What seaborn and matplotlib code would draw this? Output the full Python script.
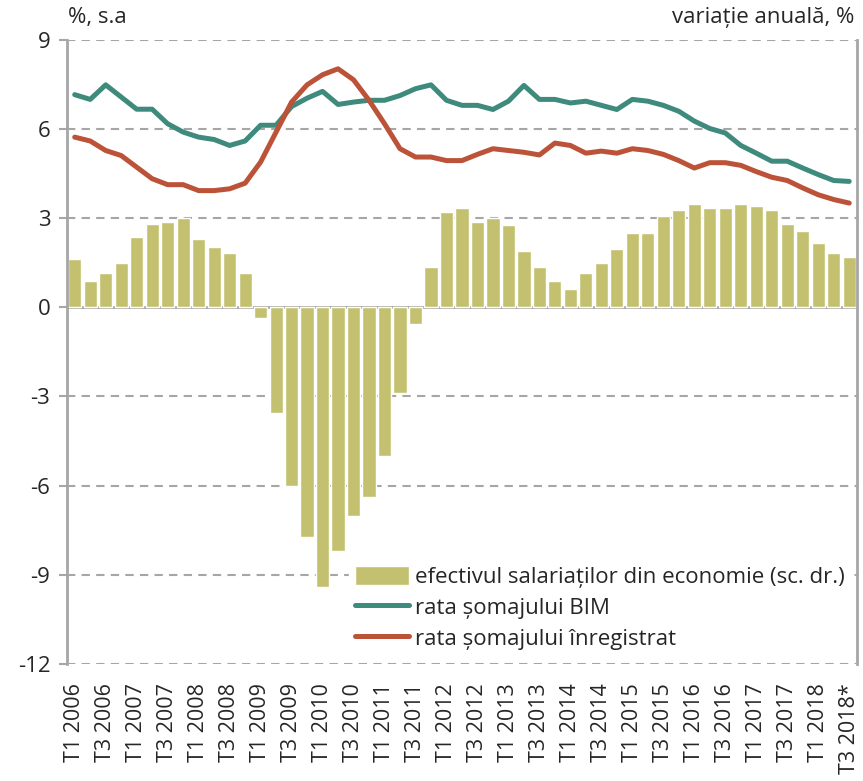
import pandas as pd
import matplotlib
matplotlib.use('Agg')
import matplotlib.pyplot as plt
import seaborn as sns

# quarters T1 2006 .. T3 2018
years = list(range(2006, 2019))
quarters = [f'T{q} {y}' for y in years for q in range(1, 5)][:51]
tick_labels = [q for i, q in enumerate(quarters) if i % 2 == 0]
tick_labels[-1] = 'T3 2018*'

# employees in the economy, annual change (%)
employees = [1.62, 0.89, 1.16, 1.49, 2.36, 2.82, 2.89, 3.02, 2.29, 2.02, 1.82, 1.16,
             -0.37, -3.54, -6.03, -7.72, -9.40, -8.19, -7.04, -6.37, -5.02, -2.87, -0.57,
             1.36, 3.22, 3.36, 2.89, 3.02, 2.76, 1.89, 1.36, 0.89, 0.62, 1.16, 1.49,
             1.96, 2.49, 2.49, 3.09, 3.29, 3.49, 3.36, 3.36, 3.49, 3.42, 3.29, 2.82,
             2.56, 2.16, 1.82, 1.69]

# ILO unemployment rate (%, s.a.)
ilo_rate = [7.16, 7.00, 7.49, 7.08, 6.67, 6.67, 6.18, 5.90, 5.73, 5.65, 5.45, 5.60,
            6.13, 6.13, 6.76, 7.04, 7.27, 6.83, 6.91, 6.97, 6.97, 7.13, 7.36, 7.49,
            6.97, 6.80, 6.80, 6.66, 6.94, 7.47, 7.00, 7.00, 6.88, 6.94, 6.80, 6.66,
            7.00, 6.94, 6.80, 6.60, 6.27, 6.02, 5.87, 5.45, 5.19, 4.92, 4.92, 4.69,
            4.47, 4.27, 4.24]

# registered unemployment rate (%, s.a.)
reg_rate = [5.73, 5.60, 5.28, 5.11, 4.72, 4.33, 4.13, 4.13, 3.93, 3.93, 3.99, 4.18,
            4.89, 5.90, 6.91, 7.49, 7.83, 8.03, 7.66, 6.97, 6.18, 5.34, 5.06, 5.06,
            4.94, 4.94, 5.15, 5.34, 5.28, 5.22, 5.13, 5.53, 5.45, 5.19, 5.26, 5.19,
            5.34, 5.28, 5.15, 4.94, 4.69, 4.87, 4.87, 4.78, 4.57, 4.38, 4.27, 4.02,
            3.79, 3.63, 3.51]

df = pd.DataFrame({
    'idx': range(len(quarters)),
    'quarter': quarters,
    'employees': employees,
    'ilo': ilo_rate,
    'reg': reg_rate,
})

sns.set_style('white')
plt.rcParams['font.family'] = ['Open Sans', 'DejaVu Sans']
plt.rcParams['axes.unicode_minus'] = False

fig = plt.figure(figsize=(8.63, 7.81), dpi=100)
ax = fig.add_axes([0.0776, 0.150, 0.9154, 0.7988])

grey = '#A6A6A6'
for v in [9, 6, 3, -3, -6, -9, -12]:
    ax.axhline(v, color=grey, lw=1.5, ls=(0, (4, 3)), zorder=0)
ax.axhline(0, color=grey, lw=2, zorder=1)

sns.barplot(data=df, x='idx', y='employees', native_scale=True, width=0.85,
            color='#C3C170', saturation=1, ax=ax, zorder=2,
            label='efectivul salariaților din economie (sc. dr.)')
sns.lineplot(data=df, x='idx', y='ilo', color='#3E8A7C', lw=3.6, ax=ax,
             label='rata șomajului BIM', zorder=3)
sns.lineplot(data=df, x='idx', y='reg', color='#BC5338', lw=3.6, ax=ax,
             label='rata șomajului înregistrat', zorder=3)

ax.set_xlim(-0.5, 50.5)
ax.set_ylim(-12, 9)
ax.set_yticks([9, 6, 3, 0, -3, -6, -9, -12])
ax.set_yticklabels(['9', '6', '3', '0', '-3', '-6', '-9', '-12'], fontsize=16)
ax.set_xticks(range(0, 51, 2))
ax.set_xticklabels(tick_labels, rotation=90, fontsize=15.5)
ax.tick_params(axis='x', length=0, pad=14)
ax.tick_params(axis='y', length=6, width=1.5, color=grey, pad=6, left=True)
ax.set_xlabel('')
ax.set_ylabel('')

for s in ['top', 'bottom']:
    ax.spines[s].set_visible(False)
for s in ['left', 'right']:
    ax.spines[s].set_color(grey)
    ax.spines[s].set_linewidth(2)

handles, labels = ax.get_legend_handles_labels()
order = [2, 0, 1]
leg = ax.legend([handles[i] for i in order], [labels[i] for i in order],
                loc='lower right', bbox_to_anchor=(0.999, 0.005), fontsize=16,
                frameon=True, fancybox=False, edgecolor='white', framealpha=1,
                handlelength=2.4, handleheight=0.9, handletextpad=0.3,
                labelspacing=0.4, borderpad=0.3, borderaxespad=0.2)

fig.text(0.079, 0.977, '%, s.a', fontsize=16, va='center', ha='left')
fig.text(0.99, 0.977, 'variație anuală, %', fontsize=16, va='center', ha='right')

fig.savefig('out.png', dpi=100)
